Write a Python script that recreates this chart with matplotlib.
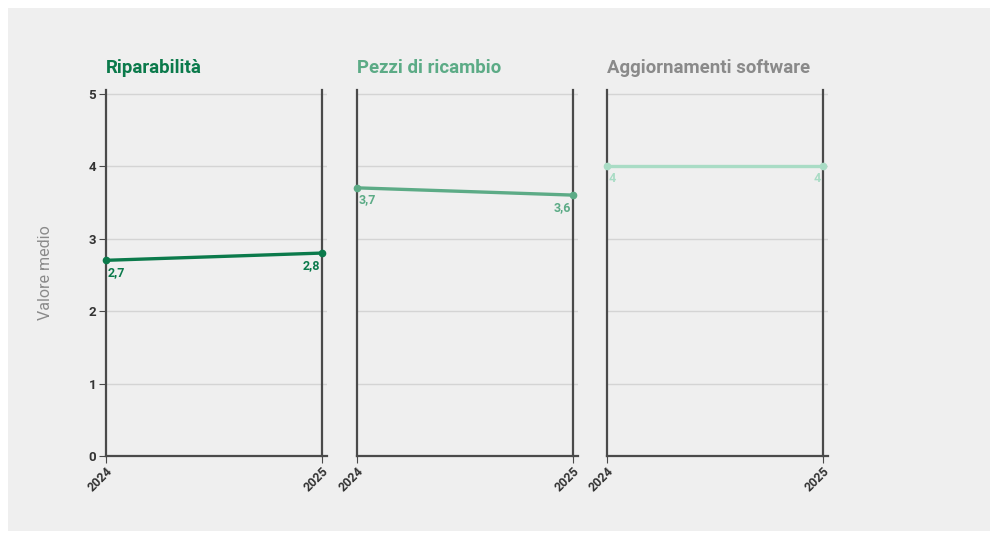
import matplotlib
matplotlib.use("Agg")
import matplotlib.pyplot as plt
from matplotlib.patches import Rectangle

plt.rcParams["font.family"] = ["Roboto", "DejaVu Sans"]

years = [2024, 2025]
titles = ["Riparabilità", "Pezzi di ricambio", "Aggiornamenti software"]
riparabilita = [2.7, 2.8]
pezzi_ricambio = [3.7, 3.6]
aggiornamenti = [4.0, 4.0]
series = [riparabilita, pezzi_ricambio, aggiornamenti]
line_colors = ["#0b7a4b", "#5cab86", "#a9dcc5"]
title_colors = ["#0b7a4b", "#5cab86", "#8a8a8a"]

bg = "#efefef"
fig = plt.figure(figsize=(9.96, 5.39), dpi=100)
fig.patch.set_facecolor("white")
fig.patches.append(Rectangle((8 / 996, 1 - 531 / 539), 982 / 996, 523 / 539,
                             transform=fig.transFigure, facecolor=bg,
                             edgecolor="none", zorder=-1))

lefts = [106, 357, 607]
for i, (left, values) in enumerate(zip(lefts, series)):
    ax = fig.add_axes([left / 996, 1 - 456 / 539, 221 / 996, (456 - 90) / 539])
    ax.set_facecolor(bg)
    ax.set_xlim(2024, 2025.025)
    ax.set_ylim(0, 5.05)
    for s in ax.spines.values():
        s.set_visible(False)

    for y in range(1, 6):
        ax.axhline(y, color="#d4d4d4", lw=1, zorder=1)
    ax.axhline(0, color="#4a4a4a", lw=1.6, zorder=2, clip_on=False)
    for yr in years:
        ax.axvline(yr, color="#4a4a4a", lw=1.6, zorder=2, clip_on=False)

    c = line_colors[i]
    ax.plot(years, values, color=c, lw=2.4, marker="o", ms=4.5, zorder=4, clip_on=False)
    for j, (yr, v) in enumerate(zip(years, values)):
        label = f"{v:g}".replace(".", ",")
        ax.annotate(label, (yr, v), xytext=(1 if j == 0 else -1, -4),
                    textcoords="offset points", ha="left" if j == 0 else "right",
                    va="top", fontsize=9, fontweight="bold", color=c, zorder=5)

    ax.set_xticks(years)
    ax.set_xticklabels([str(y) for y in years], rotation=45, ha="right",
                       rotation_mode="anchor", fontsize=9, fontweight="bold",
                       color="#333333")
    ax.tick_params(axis="x", length=5, color="#4a4a4a", pad=1)
    if i == 0:
        ax.set_yticks(range(0, 6))
        ax.set_yticklabels([str(y) for y in range(0, 6)], fontsize=9.5,
                           fontweight="bold", color="#333333")
        ax.tick_params(axis="y", length=5, color="#4a4a4a", pad=2)
        ax.set_ylabel("Valore medio", fontsize=11.5, color="#8a8a8a", labelpad=26)
    else:
        ax.set_yticks([])

    ax.text(0, 1.035, titles[i], transform=ax.transAxes, fontsize=13.4,
            fontweight="bold", color=title_colors[i], ha="left", va="bottom")

fig.savefig("out.png", dpi=100, facecolor=fig.get_facecolor())
